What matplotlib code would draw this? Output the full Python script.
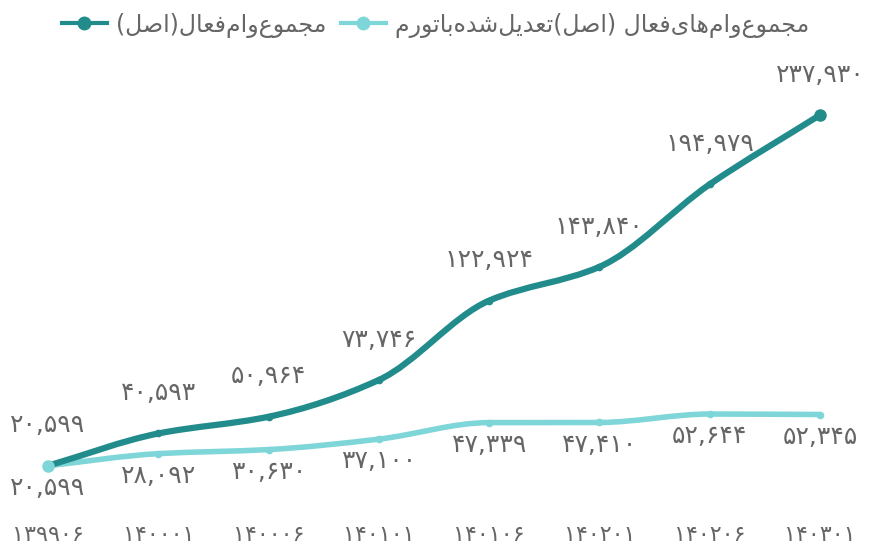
import numpy as np
import matplotlib
matplotlib.use("Agg")
import matplotlib.pyplot as plt
from matplotlib.path import Path
from matplotlib.patches import PathPatch
from matplotlib.lines import Line2D

# ---------------- data ----------------
periods = ["۱۳۹۹۰۶", "۱۴۰۰۰۱", "۱۴۰۰۰۶", "۱۴۰۱۰۱", "۱۴۰۱۰۶", "۱۴۰۲۰۱", "۱۴۰۲۰۶", "۱۴۰۳۰۱"]
nominal = [20599, 40593, 50964, 73746, 122924, 143840, 194979, 237930]
real = [20599, 28092, 30630, 37100, 47339, 47410, 52644, 52345]
name_nominal = "مجموع\u200cوام\u200cفعال(اصل)"
name_real = "مجموع\u200cوام\u200cهای\u200cفعال (اصل)تعدیل\u200cشده\u200cباتورم"

DARK = "#218c8b"
LIGHT = "#7fd6d8"
TXT = "#666666"

# ------------- minimal Arabic shaping -------------
FORMS = {
    "\u0627": ("\uFE8D", "\uFE8E"),
    "\u062F": ("\uFEA9", "\uFEAA"),
    "\u0631": ("\uFEAD", "\uFEAE"),
    "\u0648": ("\uFEED", "\uFEEE"),
    "\u0628": ("\uFE8F", "\uFE90", "\uFE91", "\uFE92"),
    "\u062A": ("\uFE95", "\uFE96", "\uFE97", "\uFE98"),
    "\u062C": ("\uFE9D", "\uFE9E", "\uFE9F", "\uFEA0"),
    "\u0634": ("\uFEB5", "\uFEB6", "\uFEB7", "\uFEB8"),
    "\u0635": ("\uFEB9", "\uFEBA", "\uFEBB", "\uFEBC"),
    "\u0639": ("\uFEC9", "\uFECA", "\uFECB", "\uFECC"),
    "\u0641": ("\uFED1", "\uFED2", "\uFED3", "\uFED4"),
    "\u0644": ("\uFEDD", "\uFEDE", "\uFEDF", "\uFEE0"),
    "\u0645": ("\uFEE1", "\uFEE2", "\uFEE3", "\uFEE4"),
    "\u0647": ("\uFEE9", "\uFEEA", "\uFEEB", "\uFEEC"),
    "\u06CC": ("\uFBFC", "\uFBFD", "\uFBFE", "\uFBFF"),
}
MIRROR = {"(": ")", ")": "("}


def shape(s):
    out = []
    n = len(s)
    for i, c in enumerate(s):
        if c not in FORMS:
            out.append(c)
            continue
        f = FORMS[c]
        prev = s[i - 1] if i > 0 else ""
        nxt = s[i + 1] if i + 1 < n else ""
        pj = prev in FORMS and len(FORMS[prev]) == 4
        nj = len(f) == 4 and nxt in FORMS
        if pj and nj:
            out.append(f[3])
        elif pj:
            out.append(f[1])
        elif nj:
            out.append(f[2])
        else:
            out.append(f[0])
    txt = "".join(ch for ch in out if ch != "\u200c")
    return "".join(MIRROR.get(ch, ch) for ch in reversed(txt))


def fa_num(v):
    s = f"{v:,}"
    return s.translate(str.maketrans("0123456789", "۰۱۲۳۴۵۶۷۸۹"))


# ------------- smooth monotone curve -------------
def monotone_path(x, y):
    x = np.asarray(x, float)
    y = np.asarray(y, float)
    h = np.diff(x)
    d = np.diff(y) / h
    m = np.zeros_like(y)
    m[0], m[-1] = d[0], d[-1]
    for k in range(1, len(y) - 1):
        if d[k - 1] * d[k] <= 0:
            m[k] = 0
        else:
            m[k] = 2 / (1 / d[k - 1] + 1 / d[k])
    verts = [(x[0], y[0])]
    codes = [Path.MOVETO]
    for k in range(len(x) - 1):
        verts += [(x[k] + h[k] / 3, y[k] + m[k] * h[k] / 3),
                  (x[k + 1] - h[k] / 3, y[k + 1] - m[k + 1] * h[k] / 3),
                  (x[k + 1], y[k + 1])]
        codes += [Path.CURVE4] * 3
    return Path(verts, codes)


plt.rcParams["font.family"] = ["DejaVu Sans"]
W, H = 869, 547
fig = plt.figure(figsize=(W / 100, H / 100), dpi=100)
ax = fig.add_axes([48 / W, (H - 499) / H, (820 - 48) / W, (499 - 115) / H])
ax.set_xlim(0, len(periods) - 1)
ax.set_ylim(0, max(nominal))
for sp in ax.spines.values():
    sp.set_visible(False)
ax.set_yticks([])
xs = np.arange(len(periods))
ax.set_xticks(xs)
ax.set_xticklabels(periods, fontsize=16, color=TXT)
ax.tick_params(axis="x", length=0, pad=19)

for vals, col, lw in [(real, LIGHT, 4.0), (nominal, DARK, 4.5)]:
    p = PathPatch(monotone_path(xs, vals), facecolor="none", edgecolor=col,
                  lw=lw, capstyle="round", joinstyle="round", clip_on=False, zorder=3)
    ax.add_patch(p)
    ax.plot(xs, vals, "o", color=col, ms=4.5, clip_on=False, zorder=4)

ax.plot([xs[-1]], [nominal[-1]], "o", color=DARK, ms=8, clip_on=False, zorder=5)
ax.plot([xs[0]], [real[0]], "o", color=LIGHT, ms=8, clip_on=False, zorder=5)

for x, v in zip(xs, nominal):
    ax.annotate(fa_num(v), (x, v), xytext=(0, 29), textcoords="offset points",
                ha="center", va="center", fontsize=18, color=TXT)
for x, v in zip(xs, real):
    ax.annotate(fa_num(v), (x, v), xytext=(0, -16), textcoords="offset points",
                ha="center", va="center", fontsize=18, color=TXT)

handles = [Line2D([], [], color=DARK, lw=3, marker="o", ms=9),
           Line2D([], [], color=LIGHT, lw=3, marker="o", ms=9)]
fig.legend(handles, [shape(name_nominal), shape(name_real)], loc="center left",
           bbox_to_anchor=(62 / W, 1 - 25 / H), ncol=2, frameon=False,
           fontsize=17, labelcolor=TXT, handlelength=1.9, handletextpad=0.4,
           columnspacing=0.6, borderpad=0, borderaxespad=0)

fig.savefig("out.png", dpi=100, facecolor="white")
